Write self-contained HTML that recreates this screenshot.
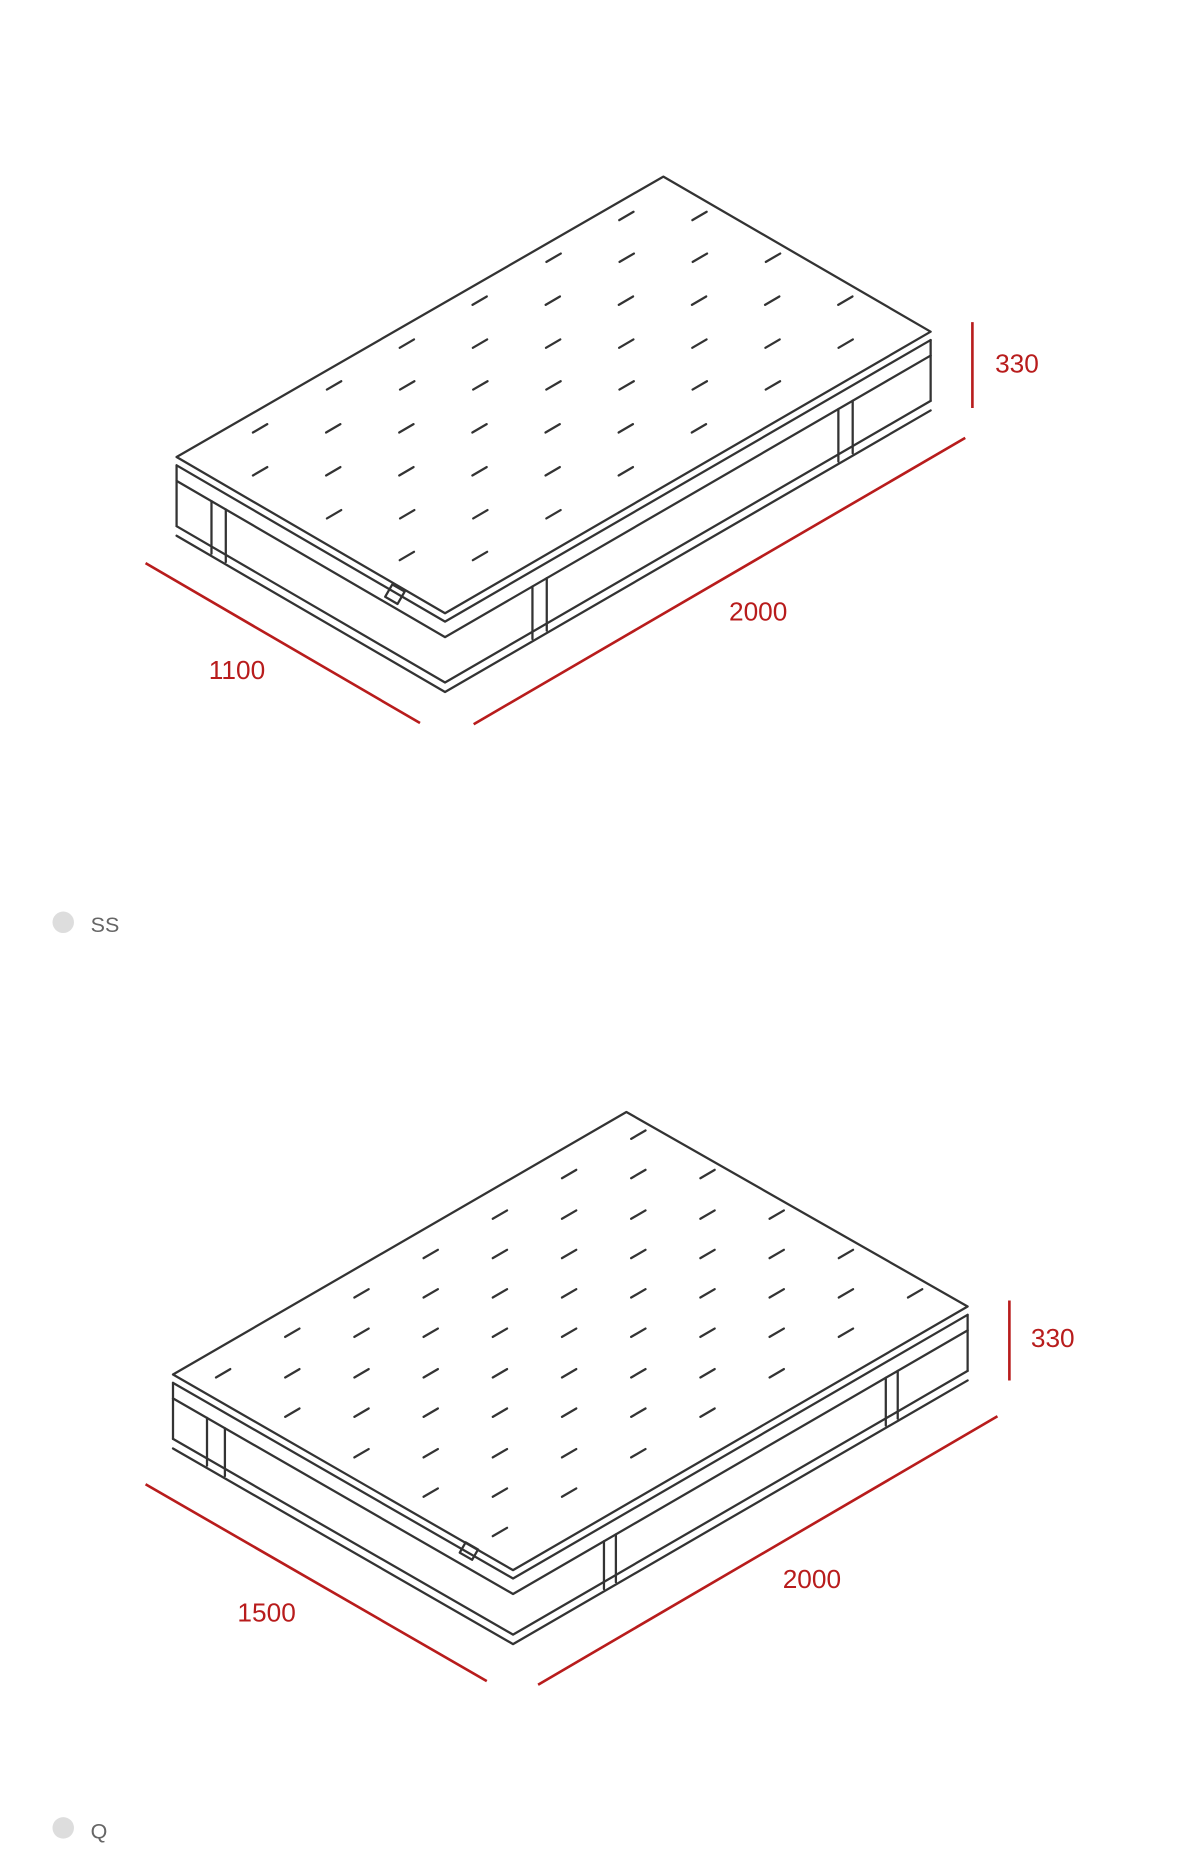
<!DOCTYPE html>
<html><head><meta charset="utf-8">
<style>
html,body{margin:0;padding:0;background:#fff;}
svg{display:block}
text{font-family:"Liberation Sans",sans-serif;}
</style></head>
<body>
<svg id="s" width="1180" height="1870" viewBox="0 0 989 1567.3" xmlns="http://www.w3.org/2000/svg">
<g stroke="#b81c1c" stroke-width="2.2" fill="none">
<line x1="815" y1="270" x2="815" y2="342"/>
<line x1="397" y1="607" x2="809" y2="367"/>
<line x1="122" y1="472" x2="352" y2="606"/>
<line x1="846" y1="1090" x2="846" y2="1157"/>
<line x1="451" y1="1412" x2="836" y2="1187"/>
<line x1="122" y1="1244" x2="408" y2="1409"/>
</g>
<g fill="#b81c1c" font-size="22">
<text x="834" y="312">330</text>
<text x="611" y="520">2000</text>
<text x="175" y="569">1100</text>
<text x="864" y="1129">330</text>
<text x="656" y="1331">2000</text>
<text x="199" y="1359">1500</text>
</g>
<circle cx="53" cy="773" r="9" fill="#ddd"/>
<text x="76" y="781" font-size="18" fill="#666">SS</text>
<circle cx="53" cy="1532" r="9" fill="#ddd"/>
<text x="76" y="1541" font-size="18" fill="#666">Q</text>
<g id="m" stroke="#333" stroke-width="1.9" fill="none" stroke-linejoin="round" stroke-linecap="round"></g>
</svg>
<script>
var g=document.getElementById('m'),out='';
function P(pts){return 'M'+pts.map(function(p){return p[0].toFixed(1)+','+p[1].toFixed(1)}).join(' L');}
function line(a,b){out+='<line x1="'+a[0]+'" y1="'+a[1]+'" x2="'+b[0]+'" y2="'+b[1]+'"/>';}
function lerp(a,b,t){return [a[0]+(b[0]-a[0])*t,a[1]+(b[1]-a[1])*t];}
function off(p,d){return [p[0],p[1]+d];}
function mat(L,T,R,F,h,straps){
  out+='<path d="'+P([L,T,R,F])+' Z"/>';
  out+='<path d="'+P([off(L,7),off(F,7),off(R,7)])+'"/>';
  out+='<path d="'+P([off(L,20),off(F,20),off(R,20)])+'"/>';
  out+='<path d="'+P([off(L,h-8),off(F,h-8),off(R,h-8)])+'"/>';
  out+='<path d="'+P([off(L,h),off(F,h),off(R,h)])+'"/>';
  line(off(L,7),off(L,h-8));line(off(R,7),off(R,h-8));
  straps.forEach(function(s){
    var a=s[0],b=s[1],w=s[2];
    var p=lerp(a,b,s[3]),q=[p[0]+w,p[1]+w*(b[1]-a[1])/(b[0]-a[0])];
    line(off(p,20),off(p,h-2));line(off(q,20),off(q,h-2));
  });
}
function dashes(rows,dx){
  rows.forEach(function(r){for(var x=r[1];x<=r[2]+1;x+=dx){out+='<line x1="'+(x-6)+'" y1="'+(r[0]+3.5)+'" x2="'+(x+6)+'" y2="'+(r[0]-3.5)+'"/>';}});
}
var L=[148,383],T=[556,148],R=[780,278],F=[373,514];
mat(L,T,R,F,66,[[L,F,12,0.13],[F,R,12,0.18],[F,R,12,0.81]]);
out+='<rect x="325" y="492" width="12" height="12" transform="rotate(30 331 498)"/>';
dashes([[181,525,587],[216,464,648],[252,402,709],[288,341,709],[323,280,648],[359,218,587],[395,218,525],[431,280,464],[466,341,402]],61.3);
L=[145,1152];T=[525,932];R=[811,1095];F=[430,1316];
mat(L,T,R,F,62,[[L,F,15,0.1],[F,R,10,0.2],[F,R,10,0.82]]);
out+='<rect x="387" y="1295" width="12" height="10" transform="rotate(30 393 1300)"/>';
dashes([[951,535,535],[984,477,593],[1018,419,651],[1051,361,709],[1084,303,767],[1117,245,709],[1151,187,651],[1184,245,593],[1218,303,535],[1251,361,477],[1284,419,419]],58);
g.innerHTML=out;
</script>
</body></html>
